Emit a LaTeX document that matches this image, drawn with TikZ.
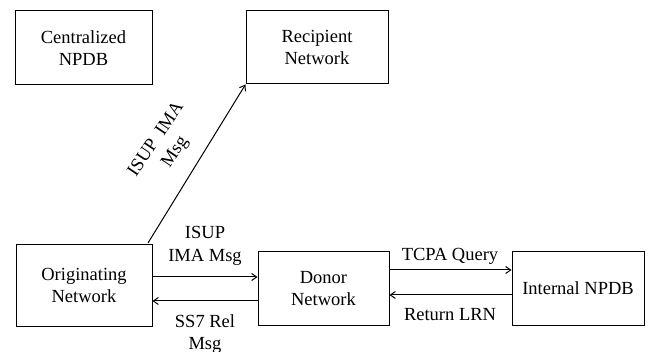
\documentclass[tikz,border=0pt]{standalone}
\usepackage{fontspec}
\setmainfont{Liberation Serif}
\usetikzlibrary{arrows.meta}
\begin{document}
\begin{tikzpicture}[x=1pt,y=-1pt,
  box/.style={draw,line width=1pt,inner sep=0pt,align=center},
  lbl/.style={align=center,inner sep=0pt},
  conn/.style={draw,line width=1pt,-{Straight Barb[length=5pt,width=7pt]}},
  every node/.style={font=\fontsize{18.5}{22.5}\selectfont}]
\useasboundingbox (0,0) rectangle (658,352);
\node[box,minimum width=137pt,minimum height=74pt] (cen) at (83.5,48) {Centralized\\NPDB};
\node[box,minimum width=142pt,minimum height=73pt] (rec) at (317,47.5) {Recipient\\Network};
\node[box,minimum width=136pt,minimum height=81pt] (orig) at (84,285.5) {Originating\\Network};
\node[box,minimum width=131pt,minimum height=73pt] (don) at (323.5,288.5) {Donor\\Network};
\node[box,minimum width=132pt,minimum height=73pt] (npdb) at (578,288.5) {Internal NPDB};
\coordinate (ds) at (148,243);
\draw[conn] (ds) -- (rec.south west);
\draw[conn] (orig.east |- 0,277) -- (don.west |- 0,277);
\draw[conn] (don.west |- 0,301) -- (orig.east |- 0,301);
\draw[conn] (don.east |- 0,270) -- (npdb.west |- 0,270);
\draw[conn] (npdb.west |- 0,295) -- (don.east |- 0,295);
\node[lbl,rotate=56] (l1) at (166,146) {ISUP\ \ IMA\\Msg};
\node[lbl] (l2) at (205,246) {ISUP\\IMA Msg};
\node[lbl] (l3) at (205,334) {SS7 Rel\\Msg};
\node[lbl] (l4) at (450,256) {TCPA Query};
\node[lbl] (l5) at (450,315) {Return LRN};
\end{tikzpicture}
\end{document}
